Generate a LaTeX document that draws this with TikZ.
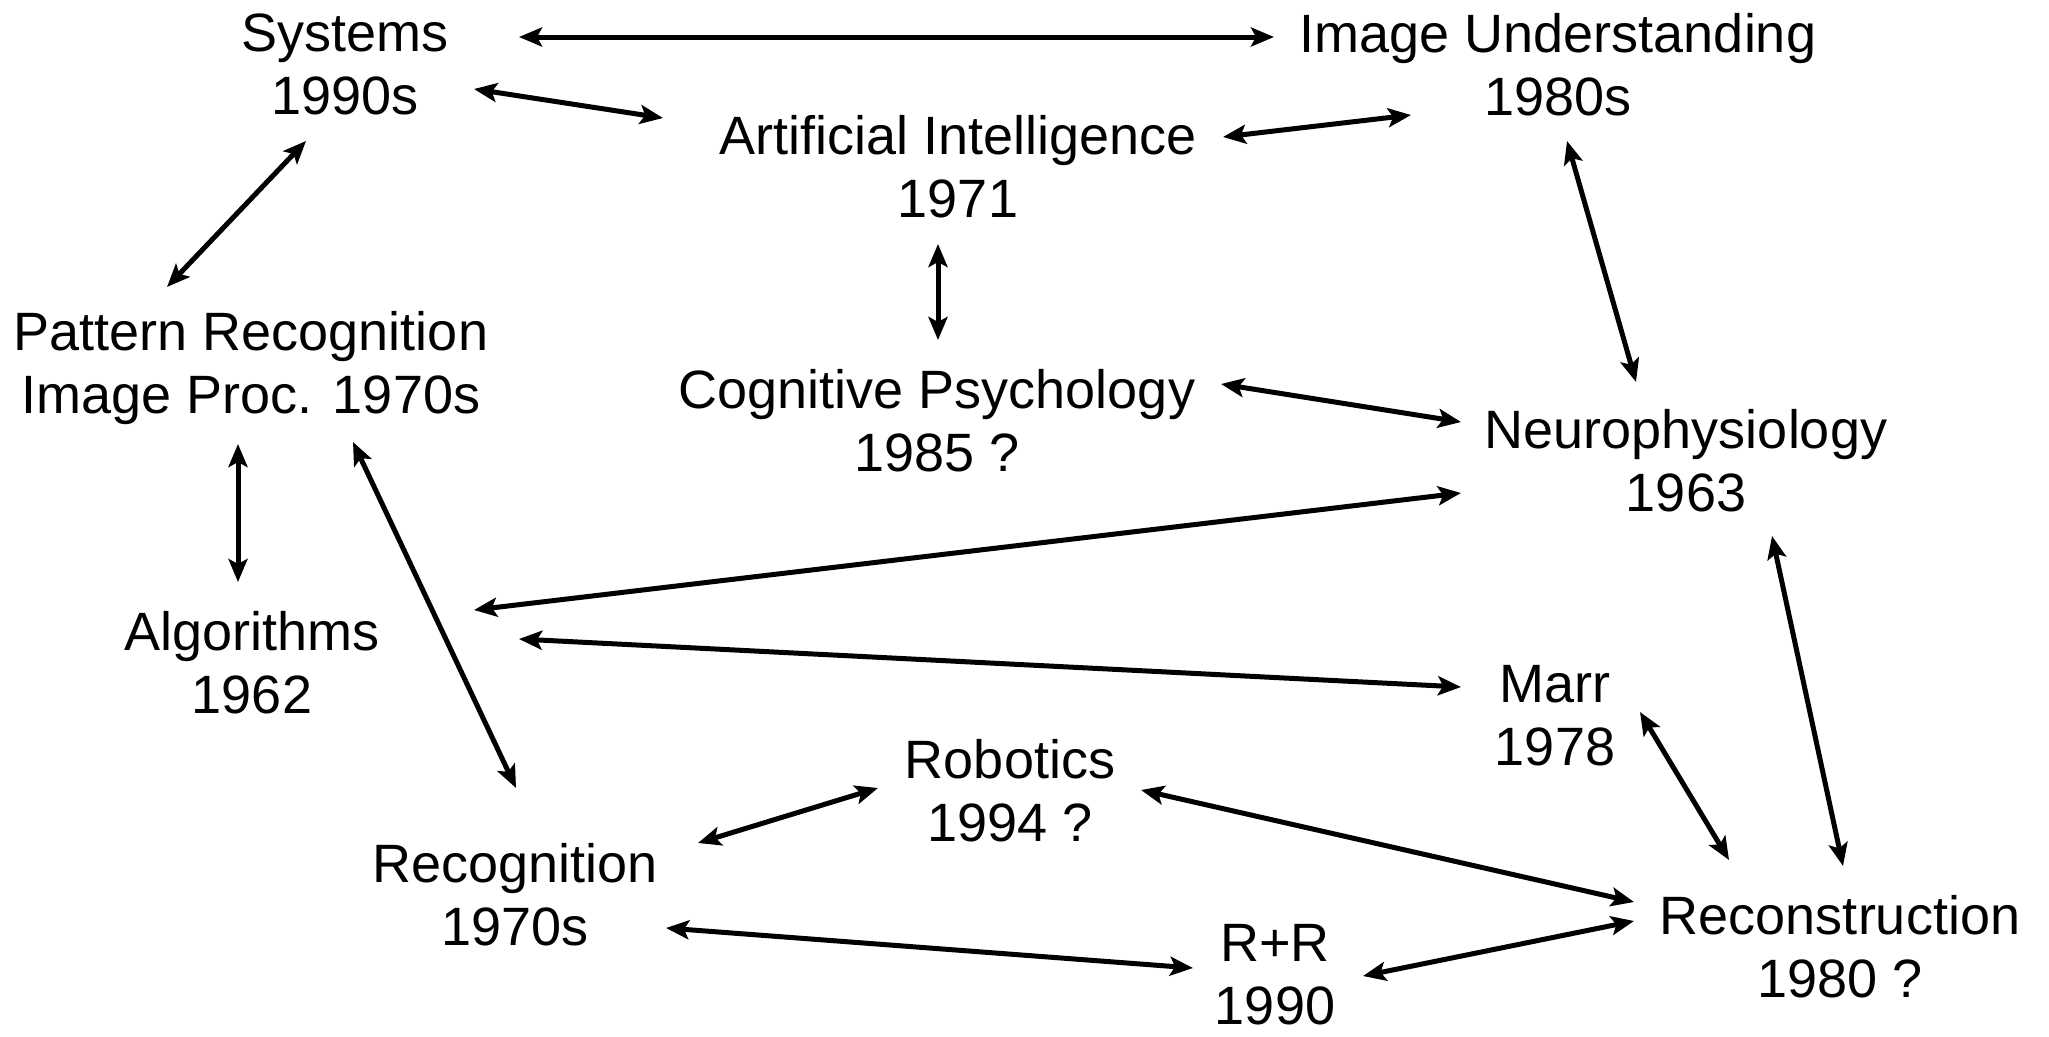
\documentclass[tikz,border=0pt]{standalone}
\usepackage{fontspec}
\setmainfont{Liberation Sans}
\usetikzlibrary{arrows.meta}
\begin{document}
\begin{tikzpicture}[x=1pt,y=-1pt,
  lbl/.style={align=center,inner sep=0pt,font=\fontsize{54}{63}\selectfont},
  link/.style={line width=5pt,{Stealth[length=23pt,width=19pt,inset=5pt]}-{Stealth[length=23pt,width=19pt,inset=5pt]}}]
\useasboundingbox (0,0) rectangle (2049,1036);
\node[lbl] (sys) at (345,64) {Systems\\1990s};
\node[lbl] (iu) at (1558,65) {Image Understanding\\1980s};
\node[lbl] (ai) at (958,167) {Artificial Intelligence\\1971};
\node[lbl] (pr) at (251,368) {Pattern Recognition\\Image Proc. 1970s};
\node[lbl] (cp) at (937,421) {Cognitive Psychology\\1985 ?};
\node[lbl] (np) at (1686,461) {Neurophysiology\\1963};
\node[lbl] (alg) at (252,663) {Algorithms\\1962};
\node[lbl] (marr) at (1555,716) {Marr\\1978};
\node[lbl] (rob) at (1010,791) {Robotics\\1994 ?};
\node[lbl] (rec) at (515,895) {Recognition\\1970s};
\node[lbl] (rr) at (1275,975) {R+R\\1990};
\node[lbl] (recon) at (1840,947) {Reconstruction\\1980 ?};
\draw[link] ([shift={(174,-27)}]sys.center) -- ([shift={(-284,-28)}]iu.center);
\draw[link] ([shift={(129,25)}]sys.center) -- ([shift={(-295,-49)}]ai.center);
\draw[link] ([shift={(265,-30)}]ai.center) -- ([shift={(-147,50)}]iu.center);
\draw[link] ([shift={(-39,77)}]sys.center) -- ([shift={(-84,-81)}]pr.center);
\draw[link] ([shift={(-20,77)}]ai.center) -- ([shift={(1,-81)}]cp.center);
\draw[link] ([shift={(9,76)}]iu.center) -- ([shift={(-50,-79)}]np.center);
\draw[link] ([shift={(284,-37)}]cp.center) -- ([shift={(-225,-39)}]np.center);
\draw[link] ([shift={(-13,76)}]pr.center) -- ([shift={(-14,-81)}]alg.center);
\draw[link] ([shift={(102,74)}]pr.center) -- ([shift={(1,-107)}]rec.center);
\draw[link] ([shift={(222,-53)}]alg.center) -- ([shift={(-225,32)}]np.center);
\draw[link] ([shift={(267,-24)}]alg.center) -- ([shift={(-94,-29)}]marr.center);
\draw[link] ([shift={(86,75)}]np.center) -- ([shift={(3,-81)}]recon.center);
\draw[link] ([shift={(85,-4)}]marr.center) -- ([shift={(-111,-87)}]recon.center);
\draw[link] ([shift={(131,-1)}]rob.center) -- ([shift={(-206,-45)}]recon.center);
\draw[link] ([shift={(183,-52)}]rec.center) -- ([shift={(-132,-3)}]rob.center);
\draw[link] ([shift={(151,33)}]rec.center) -- ([shift={(-82,-7)}]rr.center);
\draw[link] ([shift={(88,1)}]rr.center) -- ([shift={(-206,-26)}]recon.center);
\end{tikzpicture}
\end{document}
